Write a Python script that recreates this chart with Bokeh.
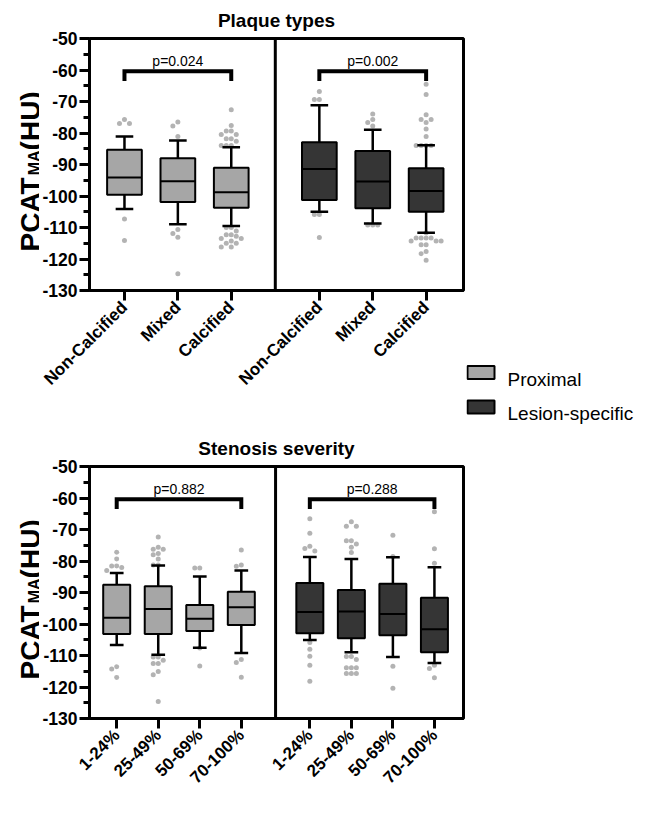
import math
from bokeh.plotting import figure
from bokeh.layouts import column, row
from bokeh.models import FixedTicker, Span, Range1d, Label
from bokeh.core.properties import value
from bokeh.embed import file_html
from bokeh.resources import INLINE

FONT = "Liberation Sans"

series = ["Proximal", "Lesion-specific"]
plaque_types = ["Non-Calcified", "Mixed", "Calcified"]
stenosis = ["1-24%", "25-49%", "50-69%", "70-100%"]
y_ticks = [-130, -120, -110, -100, -90, -80, -70, -60, -50]
y_minor = [-125, -115, -105, -95, -85, -75, -65, -55]

# [lower whisker, Q1, median, Q3, upper whisker]
plaque_prox_stats = [
    [-104.1, -99.6, -94.1, -85.3, -81.1],
    [-109.0, -101.9, -95.3, -88.0, -82.4],
    [-109.5, -103.7, -98.8, -91.0, -84.5],
]
plaque_lesion_stats = [
    [-105.0, -101.3, -91.4, -82.9, -71.2],
    [-108.7, -103.9, -95.4, -85.7, -79.0],
    [-111.7, -105.0, -98.4, -91.2, -83.9],
]
plaque_prox_out = [
    [-75.7, -77.0, -77.0, -107.3, -114.1],
    [-76.5, -77.8, -81.1, -110.6, -111.9, -113.1, -124.7],
    [-72.6, -77.6, -79.4, -79.4, -80.5, -80.5, -81.8, -81.8, -82.6, -84.0, -84.0, -84.0,
     -110.0, -110.0, -111.1, -112.3, -112.3, -112.8, -113.5, -113.5, -114.3, -115.0, -115.0, -116.2, -116.2],
]
plaque_lesion_out = [
    [-66.8, -69.4, -69.4, -105.9, -105.9, -113.2],
    [-74.0, -75.7, -76.7, -77.8, -109.2, -109.2, -109.2],
    [-64.5, -67.8, -74.2, -75.7, -75.7, -76.7, -78.7, -81.1, -84.0, -84.0, -84.0, -84.0,
     -111.7, -113.3, -113.3, -113.3, -113.3, -114.3, -114.3, -114.3, -115.5, -115.5, -117.6, -118.3, -120.4],
]

sten_prox_stats = [
    [-106.7, -103.2, -98.0, -87.5, -83.8],
    [-109.8, -103.2, -95.2, -88.0, -81.4],
    [-107.5, -102.2, -98.3, -94.0, -84.9],
    [-109.2, -100.3, -94.7, -89.8, -83.0],
]
sten_lesion_stats = [
    [-105.1, -102.9, -96.2, -87.0, -78.7],
    [-109.0, -104.5, -96.0, -89.2, -79.4],
    [-110.5, -103.6, -96.8, -87.2, -78.8],
    [-112.4, -109.0, -101.7, -91.7, -82.0],
]
sten_prox_out = [
    [-77.2, -79.4, -81.6, -81.6, -82.1, -83.0, -113.6, -114.3, -117.0],
    [-72.4, -75.6, -76.3, -76.3, -77.6, -78.0, -79.4, -81.3, -81.3,
     -110.5, -110.5, -111.5, -112.5, -112.5, -115.1, -116.1, -124.6],
    [-82.2, -82.2, -107.6, -113.3],
    [-76.5, -81.3, -81.7, -111.3, -112.2, -116.9],
]
sten_lesion_out = [
    [-66.6, -71.2, -75.3, -76.0, -76.8, -105.9, -108.0, -110.2, -113.1, -118.2],
    [-67.5, -69.0, -69.0, -73.6, -73.6, -74.6, -75.6, -77.3,
     -110.3, -110.3, -111.3, -113.9, -113.9, -113.9, -115.7, -115.7, -115.7],
    [-71.8, -78.6, -113.4, -120.4],
    [-64.4, -76.1, -80.7, -113.1, -114.1, -117.1],
]

plaque_p = ["p=0.024", "p=0.002"]
sten_p = ["p=0.882", "p=0.288"]

PROX_FILL = "#a6a6a6"
LES_FILL = "#353535"
DOT = "#b3b3b3"

TOTAL_W = 633
YLAB_W = 39
LEFT = 47
FRAME_W = 374
FRAME_H = 252
TOP_B = 38
TOP_BOTTOM_B = 138
BOT_BOTTOM_B = 80
TOP_RIGHT_B = 3


def swarm(vals, cx, ux, uy, d=5.0):
    placed = []
    xs = []
    cands = [0]
    for j in range(1, 12):
        cands += [-j, j]
    for v in vals:
        px = 0
        for c in cands:
            px = c * d
            if all((px - qx) ** 2 + ((v - qv) * uy) ** 2 >= d * d * 0.9 for qx, qv in placed):
                break
        placed.append((px, v))
        xs.append(cx + px / ux)
    return xs


def make_panel(cats, prox_stats, les_stats, prox_out, les_out, title, pvals,
               bottom_border, right_border):
    n = len(cats)
    lx = [round(i + 1.0, 3) for i in range(n)]
    rx = [round(n + 1.65 + i, 3) for i in range(n)]
    x0, x1 = 0.345, 2 * n + 1.35
    divider = n + 0.825
    ux = FRAME_W / (x1 - x0)
    uy = FRAME_H / 80.0

    p = figure(frame_width=FRAME_W, frame_height=FRAME_H,
               min_border_left=LEFT, min_border_right=right_border,
               min_border_top=TOP_B, min_border_bottom=bottom_border,
               x_range=Range1d(x0, x1), y_range=Range1d(-130, -50),
               output_backend="svg", toolbar_location=None, title=title)
    p.grid.visible = False
    p.outline_line_color = "black"
    p.outline_line_width = 3
    p.background_fill_color = "white"
    p.border_fill_color = "white"

    p.title.align = "center"
    p.title.text_font = FONT
    p.title.text_font_style = "bold"
    p.title.text_font_size = "19px"
    p.title.text_color = "black"
    p.title.standoff = 15
    p.title.offset = -5

    for xs, stats, outs, fill in ((lx, prox_stats, prox_out, PROX_FILL),
                                  (rx, les_stats, les_out, LES_FILL)):
        dx, dy = [], []
        for cx, vals in zip(xs, outs):
            dx += swarm(vals, cx, ux, uy)
            dy += vals
        p.scatter(dx, dy, size=5, fill_color=DOT, line_color=None)
        lw = [s[0] for s in stats]
        q1 = [s[1] for s in stats]
        med = [s[2] for s in stats]
        q3 = [s[3] for s in stats]
        uw = [s[4] for s in stats]
        p.segment(x0=xs, y0=q3, x1=xs, y1=uw, line_width=2.5, line_color="black")
        p.segment(x0=xs, y0=q1, x1=xs, y1=lw, line_width=2.5, line_color="black")
        cw = 0.165
        p.segment(x0=[x - cw for x in xs], y0=uw, x1=[x + cw for x in xs], y1=uw,
                  line_width=2.5, line_color="black")
        p.segment(x0=[x - cw for x in xs], y0=lw, x1=[x + cw for x in xs], y1=lw,
                  line_width=2.5, line_color="black")
        bw = 0.325
        p.quad(left=[x - bw for x in xs], right=[x + bw for x in xs], bottom=q1, top=q3,
               fill_color=fill, line_color="black", line_width=2)
        p.segment(x0=[x - bw for x in xs], y0=med, x1=[x + bw for x in xs], y1=med,
                  line_width=2, line_color="black")

    for xs, txt in ((lx, pvals[0]), (rx, pvals[1])):
        a, b = xs[0], xs[-1]
        p.line([a, a, b, b], [-63.5, -60.4, -60.4, -63.5], line_width=4, line_color="black",
               line_join="miter")
        p.text(x=[(a + b) / 2], y=[-57.2], text=[txt], text_align="center",
               text_baseline="alphabetic", text_font=value(FONT),
               text_font_size=value("14px"), text_color="black")

    p.add_layout(Span(location=divider, dimension="height", line_color="black", line_width=3))

    ya = p.yaxis[0]
    ya.ticker = FixedTicker(ticks=y_ticks, minor_ticks=y_minor)
    ya.major_label_overrides = {t: str(t) for t in y_ticks}
    ya.major_label_text_font = FONT
    ya.major_label_text_font_style = "bold"
    ya.major_label_text_font_size = "17.5px"
    ya.major_label_text_color = "black"
    ya.axis_line_width = 3
    ya.major_tick_line_width = 3
    ya.minor_tick_line_width = 3
    ya.major_tick_out = 10
    ya.major_tick_in = 0
    ya.minor_tick_out = 6
    ya.minor_tick_in = 0
    ya.major_label_standoff = 2

    xa = p.xaxis[0]
    xa.ticker = FixedTicker(ticks=lx + rx, minor_ticks=[])
    labels = {}
    for x, c in zip(lx, cats):
        labels[x] = c
    for x, c in zip(rx, cats):
        labels[x] = c
    xa.major_label_overrides = labels
    xa.major_label_orientation = math.pi / 4
    xa.major_label_text_font = FONT
    xa.major_label_text_font_style = "bold"
    xa.major_label_text_font_size = "17px"
    xa.major_label_text_color = "black"
    xa.axis_line_width = 3
    xa.major_tick_line_width = 3
    xa.major_tick_out = 10
    xa.major_tick_in = 0
    xa.minor_tick_line_color = None
    xa.major_label_standoff = 4
    return p


def blank_fig(w, h):
    # frame top aligned with the main panels' frame top; frame runs to the canvas bottom
    fh = h - TOP_B
    q = figure(frame_width=w, frame_height=fh, min_border=0,
               min_border_left=0, min_border_right=0, min_border_top=TOP_B, min_border_bottom=0,
               x_range=Range1d(0, w), y_range=Range1d(0, fh),
               x_axis_type=None, y_axis_type=None,
               output_backend="svg", toolbar_location=None, title=None)
    q.outline_line_color = None
    return q


def make_ylabel(height, frame_bottom_from_bottom):
    q = blank_fig(YLAB_W, height)
    main_fs, sub_fs = 28, 16
    w_pcat = 2.722 * main_fs
    w_ma = 1.555 * sub_fs
    y0 = frame_bottom_from_bottom + 39
    for txt, fs, xx, yy in (("PCAT", main_fs, 30, y0),
                            ("MA", sub_fs, 33.5, y0 + w_pcat),
                            ("(HU)", main_fs, 30, y0 + w_pcat + w_ma)):
        q.add_layout(Label(x=xx, y=yy, text=txt, angle=math.pi / 2,
                           text_align="left", text_baseline="alphabetic",
                           text_font=FONT, text_font_style="bold",
                           text_font_size=f"{fs}px", text_color="black"))
    return q


def make_legend(width, height, frame_bottom_from_bottom):
    q = blank_fig(width, height)
    centers = [frame_bottom_from_bottom - 82, frame_bottom_from_bottom - 116.5]
    gx0, gw, gh = 1, 27, 13
    q.quad(left=[gx0, gx0], right=[gx0 + gw, gx0 + gw],
           bottom=[c - gh / 2 for c in centers], top=[c + gh / 2 for c in centers],
           fill_color=[PROX_FILL, LES_FILL], line_color="black", line_width=2)
    q.text(x=[gx0 + gw + 13] * 2, y=[c - 6.8 for c in centers], text=series,
           text_align="left", text_baseline="alphabetic", text_font=value(FONT),
           text_font_size=value("19px"), text_color="black")
    return q


top = make_panel(plaque_types, plaque_prox_stats, plaque_lesion_stats,
                 plaque_prox_out, plaque_lesion_out, "Plaque types", plaque_p,
                 bottom_border=TOP_BOTTOM_B, right_border=TOP_RIGHT_B)
bottom = make_panel(stenosis, sten_prox_stats, sten_lesion_stats,
                    sten_prox_out, sten_lesion_out, "Stenosis severity", sten_p,
                    bottom_border=BOT_BOTTOM_B,
                    right_border=TOTAL_W - YLAB_W - LEFT - FRAME_W)

top_h = TOP_B + FRAME_H + TOP_BOTTOM_B
bot_h = TOP_B + FRAME_H + BOT_BOTTOM_B
legend_w = TOTAL_W - YLAB_W - (LEFT + FRAME_W + TOP_RIGHT_B)

yl_top = make_ylabel(top_h, TOP_BOTTOM_B)
yl_bot = make_ylabel(bot_h, BOT_BOTTOM_B)
leg = make_legend(legend_w, top_h, TOP_BOTTOM_B)

layout = column(row(yl_top, top, leg, spacing=0), row(yl_bot, bottom, spacing=0), spacing=0)
open("out.html", "w").write(file_html(layout, INLINE))
